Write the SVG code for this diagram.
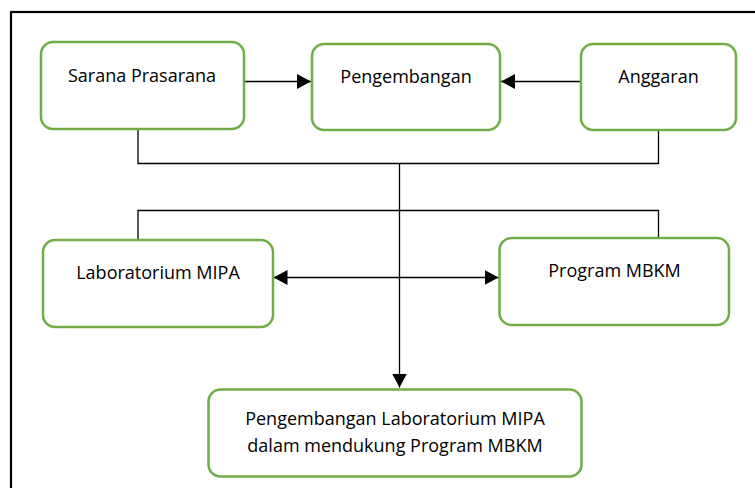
<svg xmlns="http://www.w3.org/2000/svg" width="755" height="488" viewBox="0 0 755 488">
<style>
.box{fill:#fff;stroke:#70AD47;stroke-width:2.5}
.lbl{font-family:"Open Sans","Liberation Sans",sans-serif;font-size:18px;fill:#000;text-anchor:middle}
.ln{fill:none;stroke:#000;stroke-width:1.3}
</style>
<defs>
<marker id="ah" viewBox="0 0 14 15" refX="14" refY="7.5" markerWidth="14" markerHeight="15" markerUnits="userSpaceOnUse" orient="auto">
<path d="M0,0 L14,7.5 L0,15 Z" fill="#000"/>
</marker>
<marker id="ahs" viewBox="0 0 14 15" refX="14" refY="7.5" markerWidth="14" markerHeight="15" markerUnits="userSpaceOnUse" orient="auto-start-reverse">
<path d="M0,0 L14,7.5 L0,15 Z" fill="#000"/>
</marker>
</defs>
<rect x="0" y="0" width="755" height="488" fill="#fff"/>
<rect x="11" y="12" width="760" height="490" fill="none" stroke="#000" stroke-width="2.2"/>
<g id="connectors">
<line class="ln" x1="244" y1="81.5" x2="311" y2="81.5" marker-end="url(#ah)"/>
<line class="ln" x1="581" y1="81.5" x2="501" y2="81.5" marker-end="url(#ah)"/>
<polyline class="ln" points="138,129 138,163.5 658.5,163.5 658.5,130"/>
<polyline class="ln" points="138,240 138,210.5 658.5,210.5 658.5,238"/>
<line class="ln" x1="399.5" y1="163.5" x2="399.5" y2="387.5" marker-end="url(#ah)"/>
<line class="ln" x1="273.5" y1="277.5" x2="498.5" y2="277.5" marker-start="url(#ahs)" marker-end="url(#ah)"/>
</g>
<g id="sarana">
<rect class="box" x="41" y="42" width="203" height="87" rx="12"/>
<text class="lbl" x="142" y="82">Sarana Prasarana</text>
</g>
<g id="pengembangan">
<rect class="box" x="312" y="44" width="188" height="86" rx="12"/>
<text class="lbl" x="406" y="83">Pengembangan</text>
</g>
<g id="anggaran">
<rect class="box" x="581" y="44" width="155" height="86" rx="12"/>
<text class="lbl" x="658.5" y="83">Anggaran</text>
</g>
<g id="lab">
<rect class="box" x="43" y="240" width="230" height="87" rx="12"/>
<text class="lbl" x="158" y="279">Laboratorium MIPA</text>
</g>
<g id="mbkm">
<rect class="box" x="499.5" y="238" width="229.5" height="87" rx="12"/>
<text class="lbl" x="614.5" y="277">Program MBKM</text>
</g>
<g id="hasil">
<rect class="box" x="208.5" y="389.5" width="373" height="87" rx="12"/>
<text class="lbl" x="395" y="424.5">Pengembangan Laboratorium MIPA</text>
<text class="lbl" x="395" y="452">dalam mendukung Program MBKM</text>
</g>
</svg>
